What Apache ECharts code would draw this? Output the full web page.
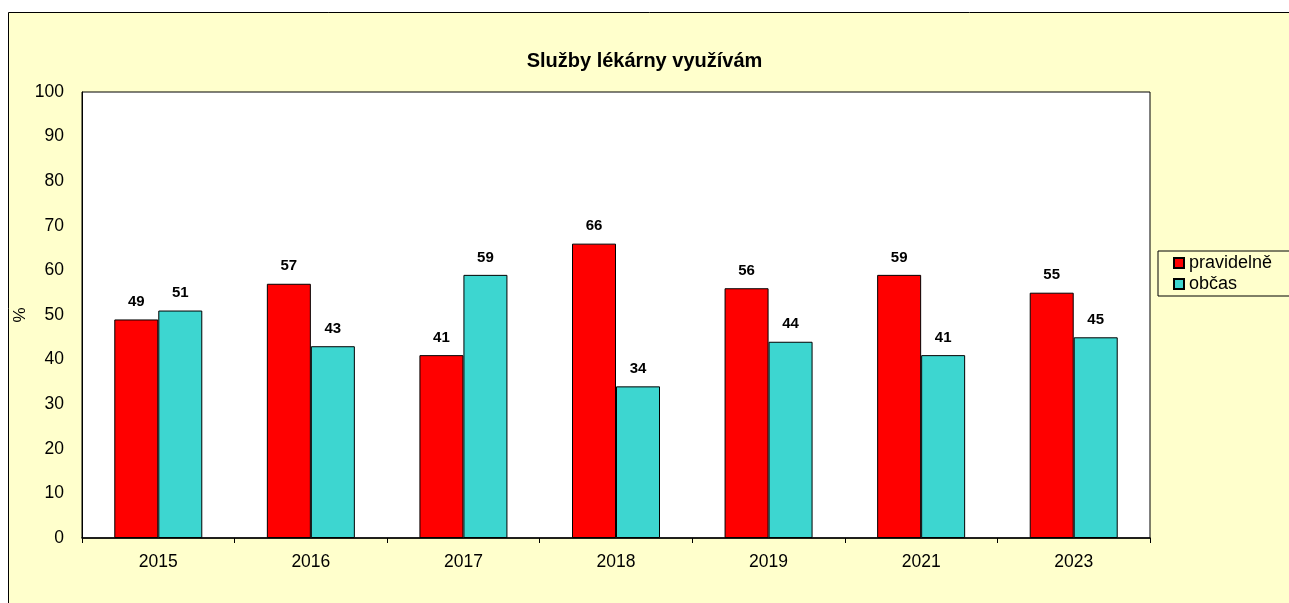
<!DOCTYPE html>
<html>
<head>
<meta charset="utf-8">
<script src="https://cdn.jsdelivr.net/npm/echarts@6/dist/echarts.min.js"></script>
<style>
html,body{margin:0;padding:0;background:#ffffff;}
#c{width:1289px;height:603px;}
</style>
</head>
<body>
<div id="c"></div>
<script>
const categories = ['2015','2016','2017','2018','2019','2021','2023'];
const pravidelne = [49,57,41,66,56,59,55];
const obcas = [51,43,59,34,44,41,45];
const seriesNames = ['pravidelně','občas'];
const titleText = 'Služby lékárny využívám';

const chart = echarts.init(document.getElementById('c'));
const font = 'Liberation Sans, Arial, sans-serif';
chart.setOption({
  backgroundColor: '#ffffff',
  animation: false,
  graphic: [{
    type: 'rect', z: -10, silent: true,
    shape: {x: 8.5, y: 12.5, width: 1400, height: 700},
    style: {fill: '#FFFFCC', stroke: '#000', lineWidth: 1}
  }],
  title: {
    text: titleText, left: 'center', top: 46,
    textStyle: {fontFamily: font, fontSize: 20, fontWeight: 'bold', color: '#000'}
  },
  legend: {
    orient: 'vertical', left: 1158, top: 251,
    data: seriesNames,
    icon: 'rect', itemWidth: 10, itemHeight: 10, itemGap: 3,
    padding: [3, 30, 3, 15],
    borderColor: '#000', borderWidth: 1,
    backgroundColor: '#FFFFCC',
    textStyle: {fontFamily: font, fontSize: 18, color: '#000', lineHeight: 18}
  },
  grid: {
    left: 82, top: 92, right: 139, bottom: 65,
    show: true, backgroundColor: '#ffffff', borderColor: '#000', borderWidth: 1
  },
  xAxis: {
    type: 'category', data: categories,
    axisLine: {lineStyle: {color: '#000', width: 1.5}},
    axisTick: {show: true, length: 5, lineStyle: {color: '#000'}},
    axisLabel: {fontFamily: font, fontSize: 17.5, color: '#000', margin: 15}
  },
  yAxis: {
    type: 'value', min: 0, max: 100, interval: 10,
    name: '%', nameLocation: 'middle', nameGap: 53, nameRotate: 90,
    nameMoveOverlap: false,
    nameTextStyle: {fontFamily: font, fontSize: 17, color: '#000'},
    axisLine: {show: true, lineStyle: {color: '#000'}},
    axisTick: {show: false},
    splitLine: {show: false},
    axisLabel: {fontFamily: font, fontSize: 17.5, color: '#000', margin: 18}
  },
  series: [{
    name: seriesNames[0], type: 'bar', data: pravidelne,
    barWidth: 44, barGap: '0%',
    itemStyle: {color: '#FF0000', borderColor: '#000', borderWidth: 1},
    label: {show: true, position: 'top', distance: 10, fontFamily: font, fontSize: 15, fontWeight: 'bold', color: '#000'}
  }, {
    name: seriesNames[1], type: 'bar', data: obcas,
    barWidth: 44, barGap: '0%',
    itemStyle: {color: '#3DD6D0', borderColor: '#000', borderWidth: 1},
    label: {show: true, position: 'top', distance: 10, fontFamily: font, fontSize: 15, fontWeight: 'bold', color: '#000'}
  }]
});
</script>
</body>
</html>
